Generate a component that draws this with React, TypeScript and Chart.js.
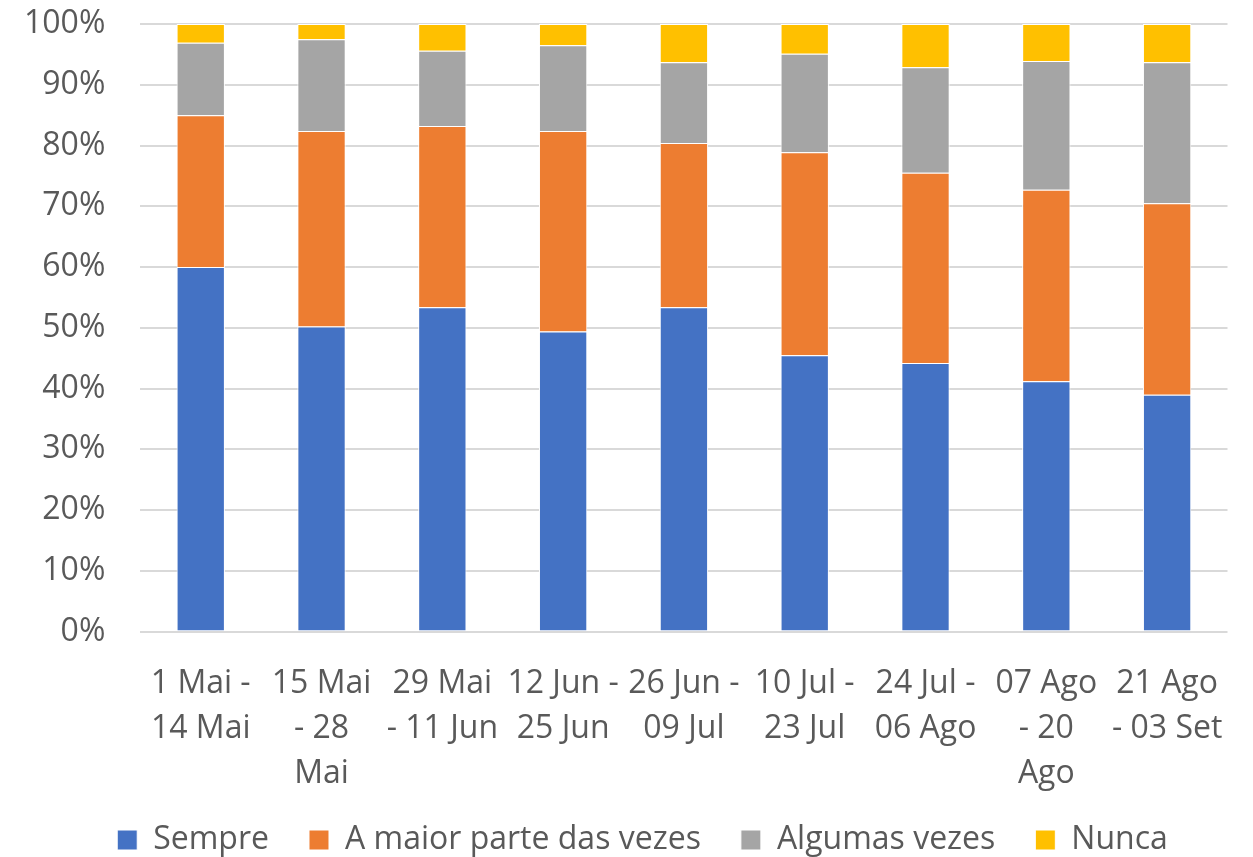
import React, { useEffect, useRef } from "react";
import { Chart, registerables } from "chart.js";

Chart.register(...registerables);

const categories: string[][] = [
  ["1 Mai -", "14 Mai"],
  ["15 Mai", "- 28", "Mai"],
  ["29 Mai", "- 11 Jun"],
  ["12 Jun -", "25 Jun"],
  ["26 Jun -", "09 Jul"],
  ["10 Jul -", "23 Jul"],
  ["24 Jul -", "06 Ago"],
  ["07 Ago", "- 20", "Ago"],
  ["21 Ago", "- 03 Set"],
];

const sempre = [60.0, 50.2, 53.4, 49.4, 53.4, 45.5, 44.2, 41.2, 39.0];
const maiorParte = [25.0, 32.2, 29.8, 33.0, 27.0, 33.4, 31.3, 31.5, 31.5];
const algumas = [11.9, 15.1, 12.4, 14.1, 13.3, 16.2, 17.4, 21.2, 23.2];
const nunca = [3.1, 2.5, 4.4, 3.5, 6.3, 4.9, 7.1, 6.1, 6.3];

const seriesNames = ["Sempre", "A maior parte das vezes", "Algumas vezes", "Nunca"];
const seriesColors = ["#4472C4", "#ED7D31", "#A5A5A5", "#FFC000"];

const legendPlacePlugin = {
  id: "legendPlace",
  beforeInit(chart: any) {
    const legend = chart.legend;
    if (!legend) return;
    const orig = legend.fit;
    legend.fit = function () {
      orig.call(this);
      this.height = 62;
    };
  },
  afterLayout(chart: any) {
    const legend = chart.legend;
    if (!legend) return;
    legend.top -= 11;
    legend.left += 10;
    legend.right += 10;
  },
};

export default function App() {
  const ref = useRef<HTMLCanvasElement | null>(null);
  useEffect(() => {
    if (!ref.current) return;
    const values = [sempre, maiorParte, algumas, nunca];
    const font = { family: "'Open Sans', sans-serif", size: 32 };
    const chart = new Chart(ref.current, {
      type: "bar",
      data: {
        labels: categories,
        datasets: values.map((v, i) => ({
          label: seriesNames[i],
          data: v,
          backgroundColor: seriesColors[i],
          borderColor: "#FFFFFF",
          borderWidth: 1,
          barPercentage: 0.4,
          categoryPercentage: 1.0,
        })),
      },
      plugins: [legendPlacePlugin],
      options: {
        animation: false,
        responsive: false,
        maintainAspectRatio: false,
        layout: { padding: { left: 24, right: 12, top: 24, bottom: 0 } },
        scales: {
          x: {
            stacked: true,
            grid: { display: false, drawTicks: false },
            border: { display: false },
            afterFit: (s: any) => {
              s.height -= 31;
            },
            ticks: {
              color: "#595959",
              font: { ...font, lineHeight: 1.4 },
              padding: 30,
              maxRotation: 0,
              autoSkip: false,
            },
          },
          y: {
            stacked: true,
            min: 0,
            max: 100,
            grid: {
              color: "#D9D9D9",
              lineWidth: 2,
              drawTicks: true,
              tickLength: 35,
              tickColor: "rgba(0,0,0,0)",
            },
            border: { display: false },
            ticks: {
              stepSize: 10,
              color: "#595959",
              font,
              padding: 0,
              callback: (v: any) => `${v}%`,
            },
          },
        },
        plugins: {
          legend: {
            position: "bottom",
            labels: {
              color: "#595959",
              font,
              boxWidth: 20,
              boxHeight: 20,
              padding: 40,
            },
          },
          tooltip: { enabled: false },
        },
      },
    });
    return () => chart.destroy();
  }, []);
  return (
    <div style={{ position: "absolute", left: 0, top: 0, width: 1253, height: 857 }}>
      <canvas ref={ref} width={1253} height={857} style={{ width: 1253, height: 857 }} />
    </div>
  );
}
